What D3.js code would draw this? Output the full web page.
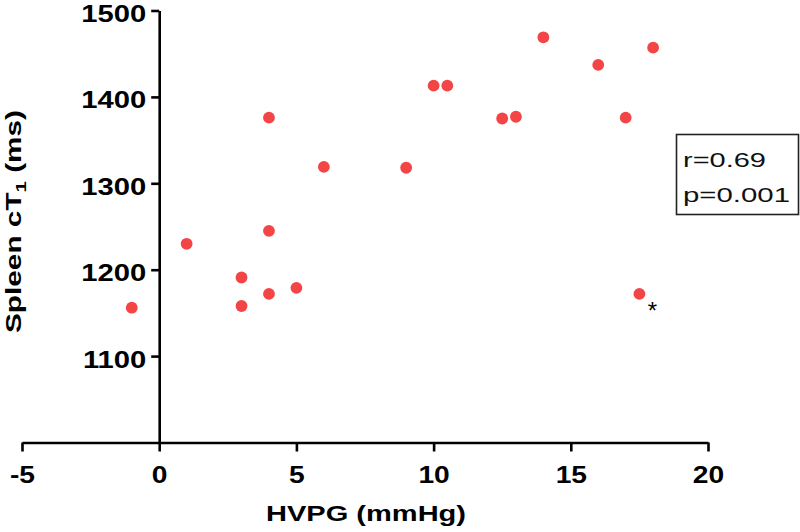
<!DOCTYPE html>
<html>
<head>
<meta charset="utf-8">
<script src="https://cdn.jsdelivr.net/npm/d3@7"></script>
<style>
  html, body { margin: 0; padding: 0; background: #fff; }
  svg { display: block; }
  text { font-family: "Liberation Sans", Arial, Helvetica, sans-serif; }
</style>
</head>
<body>
<svg id="chart" width="800" height="532"></svg>
<script>
// ---- data ----
const hvpg   = [-1, 1, 3, 3, 4, 4, 4, 5, 6, 9, 10, 10.5, 12.5, 13, 14, 16, 17, 18, 17.5];
const spleen = [1156, 1230, 1191, 1158, 1376, 1245, 1172, 1179, 1319, 1318, 1413, 1413, 1375, 1377, 1469, 1437, 1376, 1457, 1172];
const flagged = [false, false, false, false, false, false, false, false, false, false, false, false, false, false, false, false, false, false, true];
const xTicks = [-5, 0, 5, 10, 15, 20];
const yTicks = [1100, 1200, 1300, 1400, 1500];
const xTitle = "HVPG (mmHg)";
const yTitleMain = "Spleen cT";
const yTitleSub = "1";
const yTitleEnd = " (ms)";
const statLines = ["r=0.69", "p=0.001"];

const svg = d3.select("#chart");
const x = d3.scaleLinear().domain([-5, 20]).range([22, 708]);
const y = d3.scaleLinear().domain([1000, 1500]).range([442.5, 10.5]);

// x axis
const gx = svg.append("g")
  .attr("transform", `translate(0,${y(1000)})`)
  .call(d3.axisBottom(x).tickValues(xTicks).tickFormat(d => String(d)).tickSize(9).tickSizeOuter(0));
gx.select(".domain").attr("stroke", "#000").attr("stroke-width", 2.6);
gx.selectAll(".tick line").attr("stroke", "#000").attr("stroke-width", 2.6);
const sxX = 1.2;
gx.selectAll(".tick text")
  .attr("x", 0).attr("y", 40.5).attr("dy", 0)
  .attr("transform", `scale(${sxX},1)`)
  .attr("fill", "#000")
  .style("font-size", "23.5px").style("font-weight", "bold");

// y axis
const gy = svg.append("g")
  .attr("transform", `translate(${x(0)},0)`)
  .call(d3.axisLeft(y).tickValues(yTicks).tickFormat(d => String(d)).tickSize(8).tickSizeOuter(0));
gy.select(".domain").attr("stroke", "#000").attr("stroke-width", 2.6);
gy.selectAll(".tick line").attr("stroke", "#000").attr("stroke-width", 2.6);
const sxY = 1.27;
gy.selectAll(".tick text")
  .attr("x", -13 / sxY).attr("dy", 11)
  .attr("transform", `scale(${sxY},1)`)
  .attr("fill", "#000")
  .style("font-size", "23px").style("font-weight", "bold");

// points
const pts = hvpg.map((d, i) => ({ x: d, y: spleen[i], f: flagged[i] }));
svg.append("g").selectAll("circle")
  .data(pts)
  .join("circle")
  .attr("cx", d => x(d.x))
  .attr("cy", d => y(d.y))
  .attr("r", 5.9)
  .attr("fill", "#f44546");

// asterisk next to flagged point
svg.append("g").selectAll("text")
  .data(pts.filter(d => d.f))
  .join("text")
  .attr("x", d => x(d.x) + 13)
  .attr("y", d => y(d.y) + 25)
  .attr("text-anchor", "middle")
  .style("font-size", "24px")
  .attr("fill", "#000")
  .text("*");

// x title
svg.append("text")
  .attr("x", 366).attr("y", 521)
  .attr("text-anchor", "middle")
  .style("font-size", "22px").style("font-weight", "bold")
  .attr("fill", "#000")
  .attr("textLength", 200).attr("lengthAdjust", "spacingAndGlyphs")
  .text(xTitle);

// y title (rotated)
const yt = svg.append("text")
  .attr("transform", "translate(21,333) rotate(-90)")
  .attr("text-anchor", "start")
  .style("font-size", "22px").style("font-weight", "bold")
  .attr("fill", "#000")
  .attr("textLength", 223).attr("lengthAdjust", "spacingAndGlyphs");
yt.append("tspan").text(yTitleMain);
yt.append("tspan").attr("dy", 5).style("font-size", "15px").text(yTitleSub);
yt.append("tspan").attr("dy", -5).text(yTitleEnd);

// stats box
svg.append("rect")
  .attr("x", 676.5).attr("y", 134.5).attr("width", 122).attr("height", 80)
  .attr("fill", "#fff").attr("stroke", "#222").attr("stroke-width", 1.6);
svg.append("g").selectAll("text")
  .data(statLines)
  .join("text")
  .attr("x", 683)
  .attr("y", (d, i) => 167 + i * 35)
  .style("font-size", "21px")
  .attr("fill", "#111")
  .attr("textLength", (d, i) => [83, 107][i])
  .attr("lengthAdjust", "spacingAndGlyphs")
  .text(d => d);
</script>
</body>
</html>
